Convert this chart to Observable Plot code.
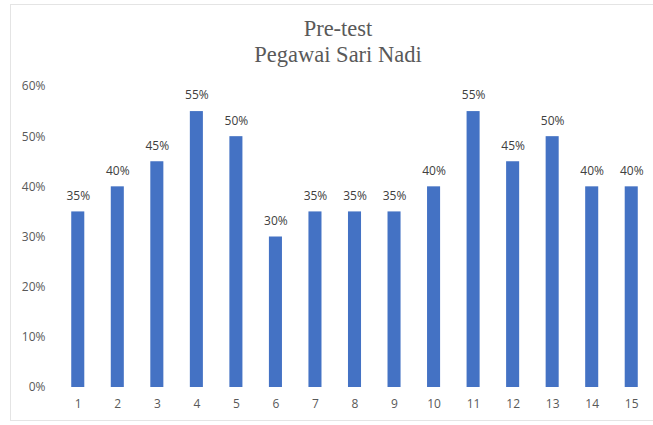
<!DOCTYPE html>
<html>
<head>
<meta charset="utf-8">
<script src="https://cdn.jsdelivr.net/npm/d3@7"></script>
<script src="https://cdn.jsdelivr.net/npm/@observablehq/plot@0.6"></script>
<style>
  html, body { margin: 0; padding: 0; background: #fff; }
  #wrap { position: relative; width: 653px; height: 425px; overflow: hidden; }
  #frame { position: absolute; left: 10px; top: 4px; width: 660px; height: 417px; border: 1px solid #e4e4e4; box-sizing: border-box; }
  #title { position: absolute; left: 0; top: 16px; width: 676px; text-align: center; font-family: "Liberation Serif", "DejaVu Serif", serif; font-size: 22.5px; line-height: 26px; color: #595959; }
  #chart { position: absolute; left: 0; top: 72px; }
</style>
</head>
<body>
<div id="wrap">
  <div id="frame"></div>
  <div id="title">Pre-test<br>Pegawai Sari Nadi</div>
  <div id="chart"></div>
</div>
<script>
const categories = ["1","2","3","4","5","6","7","8","9","10","11","12","13","14","15"];
const values = [0.35,0.40,0.45,0.55,0.50,0.30,0.35,0.35,0.35,0.40,0.55,0.45,0.50,0.40,0.40];
const yTicks = [0,0.1,0.2,0.3,0.4,0.5,0.6];

const data = categories.map((c, i) => ({cat: c, v: values[i]}));

const plot = Plot.plot({
  width: 653,
  height: 353,
  marginLeft: 58,
  marginRight: 2,
  marginTop: 14,
  marginBottom: 38,
  style: {fontFamily: "'Open Sans', 'Liberation Sans', sans-serif", fontSize: "12px", color: "#595959", background: "transparent"},
  x: {domain: categories, paddingInner: 0.67, paddingOuter: 0.335, align: 0.5, round: false, label: null},
  y: {domain: [0, 0.6], label: null},
  marks: [
    Plot.gridY(yTicks, {stroke: "#d9d9d9", strokeOpacity: 1, x1: 58, x2: 653}),
    Plot.axisY(yTicks, {tickSize: 0, tickPadding: 13, tickFormat: d => Math.round(d*100) + "%", fill: "#595959", fontSize: 12, label: null}),
    Plot.axisX({tickSize: 0, tickPadding: 12, fill: "#595959", fontSize: 12, label: null}),
    Plot.barY(data, {x: "cat", y: "v", fill: "#4472C4"}),
    Plot.text(data, {x: "cat", y: "v", text: d => Math.round(d.v*100) + "%", dy: -16, fill: "#404040", fontSize: 12})
  ]
});
document.getElementById("chart").appendChild(plot);
</script>
</body>
</html>
